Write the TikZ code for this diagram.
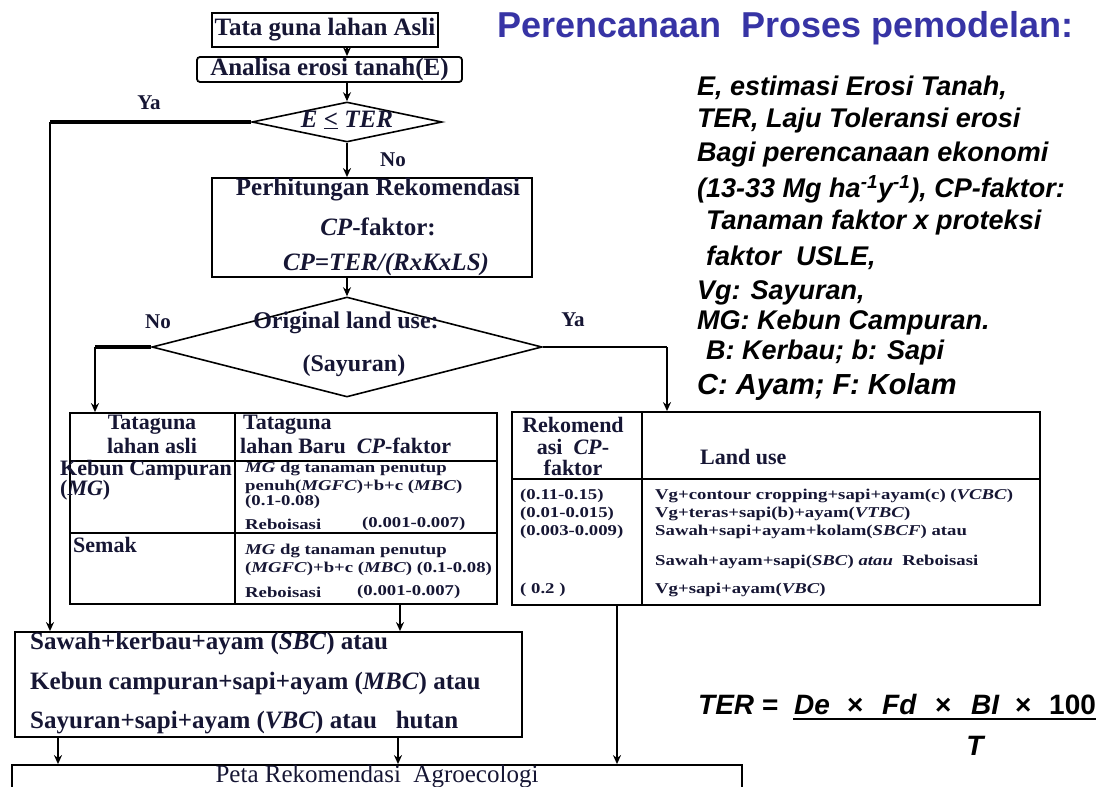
\documentclass[tikz,border=0pt]{standalone}
\usepackage{fontspec}
\setmainfont{Liberation Serif}
\newfontfamily\fxwide[FakeStretch=1.25]{Liberation Serif}
\newfontfamily\farial{Liberation Sans}
\usetikzlibrary{shapes.geometric,arrows.meta}
\definecolor{ink}{RGB}{22,22,52}
\definecolor{titleblue}{RGB}{55,52,165}
\newcommand\FlowFont{\bfseries\fontsize{25}{29}\selectfont}
\newcommand\HeadFont{\bfseries\fontsize{22}{25}\selectfont}
\newcommand\SmallFont{\fxwide\bfseries\fontsize{15}{18}\selectfont}
\newcommand\SideFont{\farial\bfseries\itshape\fontsize{27}{31}\selectfont}
\tikzset{
  box/.style={draw=black, line width=1.8pt, inner sep=0pt},
  ft/.style={font=\FlowFont, text=ink, inner sep=0pt},
  hd/.style={font=\HeadFont, text=ink, inner sep=0pt},
  sm/.style={font=\SmallFont, text=ink, inner sep=0pt, anchor=west},
  side/.style={font=\SideFont, text=black, inner sep=0pt, anchor=west},
  fm/.style={font=\farial\bfseries\itshape\fontsize{28}{32}\selectfont, text=black, inner sep=0pt, anchor=base west},
  lab/.style={font=\bfseries\fontsize{21}{24}\selectfont, text=ink, inner sep=0pt},
  arr/.style={-{Stealth[length=9pt,width=8pt]}, line width=1.6pt},
  thickl/.style={line width=3.5pt},
  dia/.style={diamond, draw=black, line width=1.6pt, inner sep=0pt}
}
\begin{document}
\begin{tikzpicture}[x=1pt,y=-1pt]
\clip (0,0) rectangle (1111,787);
\fill[white] (0,0) rectangle (1111,787);

% title
\node[font=\farial\bfseries\fontsize{36}{40}\selectfont, text=titleblue, inner sep=0pt, anchor=west] (title) at (497,28) {Perencanaan\ \ Proses pemodelan:};

% flowchart boxes
\node[box, ft, minimum width=226pt, minimum height=34pt] (top) at (325,30) {Tata guna lahan Asli};
\node[box, ft, rounded corners=3pt, minimum width=265pt, minimum height=25pt] (ana) at (329.5,69.5) {Analisa erosi tanah(E)};
\node[dia, minimum width=190pt, minimum height=40pt] (d1) at (347,122) {};
\node[ft] (d1t) at (347,120) {\itshape E \underline{<} TER};
\node[box, minimum width=320pt, minimum height=99pt] (perh) at (372,227.5) {};
\node[ft] (p1) at (378,190) {Perhitungan Rekomendasi};
\node[ft] (p2) at (378,227) {\textit{CP}-faktor:};
\node[ft] (p3) at (386,264) {\itshape CP=TER/(RxKxLS)};
\node[dia, minimum width=390pt, minimum height=100pt] (d2) at (347,347) {};
\node[ft, font=\bfseries\fontsize{24}{28}\selectfont] (d2a) at (346,323) {Original land use:};
\node[ft, font=\bfseries\fontsize{24}{28}\selectfont] (d2b) at (354,366) {(Sayuran)};

% branch labels
\node[lab] (lya1) at (149,103) {Ya};
\node[lab] (lno1) at (393,160) {No};
\node[lab] (lno2) at (158,322) {No};
\node[lab] (lya2) at (573,320) {Ya};

% left table
\node[box, minimum width=427pt, minimum height=191pt] (ltab) at (283.5,508.5) {};
\draw[line width=1.8pt] (70,461) -- (497,461);
\draw[line width=1.8pt] (70,533) -- (497,533);
\draw[line width=1.8pt] (235,413) -- (235,604);
\node[hd] (lh1) at (152,425) {Tataguna};
\node[hd] (lh2) at (152,446) {lahan asli};
\node[hd, anchor=west] (lh3) at (243,425) {Tataguna};
\node[hd, anchor=west] (lh4) at (240,446) {lahan Baru\ \ \textit{CP}-faktor};
\node[hd, anchor=west] (lr1) at (60,470) {Kebun Campuran};
\node[hd, anchor=west] (lr2) at (60,490) {(\textit{MG})};
\node[hd, anchor=west] (lr3) at (73,545) {Semak};
\node[sm] (a1) at (245,469) {\textit{MG} dg tanaman penutup};
\node[sm] (a2) at (245,487) {penuh(\textit{MGFC})+b+c (\textit{MBC})};
\node[sm] (a3) at (245,502) {(0.1-0.08)};
\node[sm] (a4) at (245,524) {Reboisasi};
\node[sm] (a5) at (362,524) {(0.001-0.007)};
\node[sm] (b1) at (245,551) {\textit{MG} dg tanaman penutup};
\node[sm] (b2) at (245,569) {(\textit{MGFC})+b+c (\textit{MBC}) (0.1-0.08)};
\node[sm] (b3) at (245,592) {Reboisasi};
\node[sm] (b4) at (357,592) {(0.001-0.007)};

% right table
\node[box, minimum width=528pt, minimum height=193pt] (rtab) at (776,508.5) {};
\draw[line width=1.8pt] (512,479) -- (1040,479);
\draw[line width=1.8pt] (642,412) -- (642,605);
\node[hd] (rh1) at (573,425) {Rekomend};
\node[hd] (rh2) at (573,447) {asi\ \ \textit{CP}-};
\node[hd] (rh3) at (573,468) {faktor};
\node[hd, anchor=west] (rh4) at (700,457) {Land use};
\node[sm] (c1a) at (520,496) {(0.11-0.15)};
\node[sm] (c1b) at (520,514) {(0.01-0.015)};
\node[sm] (c1c) at (520,532) {(0.003-0.009)};
\node[sm] (c1d) at (520,590) {( 0.2 )};
\node[sm] (c2a) at (655,496) {Vg+contour cropping+sapi+ayam(c) (\textit{VCBC})};
\node[sm] (c2b) at (655,514) {Vg+teras+sapi(b)+ayam(\textit{VTBC})};
\node[sm] (c2c) at (655,532) {Sawah+sapi+ayam+kolam(\textit{SBCF}) atau};
\node[sm] (c2d) at (655,562) {Sawah+ayam+sapi(\textit{SBC}) \textit{atau}\ \ Reboisasi};
\node[sm] (c2e) at (655,590) {Vg+sapi+ayam(\textit{VBC})};

% lower boxes
\node[box, minimum width=507pt, minimum height=105pt] (sawah) at (268.5,684.5) {};
\node[ft, anchor=west] (s1) at (30,644) {Sawah+kerbau+ayam (\textit{SBC}) atau};
\node[ft, anchor=west] (s2) at (30,684) {Kebun campuran+sapi+ayam (\textit{MBC}) atau};
\node[ft, anchor=west] (s3) at (30,723) {Sayuran+sapi+ayam (\textit{VBC}) atau\ \ \ hutan};
\node[box, minimum width=730pt, minimum height=40pt] (bot) at (377,785) {};
\node[font=\fontsize{25}{29}\selectfont, text=ink, inner sep=0pt] (bt) at (377,777) {Peta Rekomendasi\ \ Agroecologi};

% connectors
\coordinate (yaL) at (50,122);
\coordinate (noL) at (95,347);
\coordinate (yaR) at (667,347);
\coordinate (k1) at (400,0);
\coordinate (k2) at (58,0);
\coordinate (k3) at (398,0);
\coordinate (k4) at (617,0);
\draw[arr] (top.south -| d1.north) -- (ana.north -| d1.north);
\draw[arr] (ana.south -| d1.north) -- (d1.north);
\draw[thickl] (d1.west) -- (yaL);
\draw[arr] (yaL) -- (yaL |- sawah.north);
\draw[arr] (d1.south) -- (d1.south |- perh.north);
\draw[arr] (perh.south -| d2.north) -- (d2.north);
\draw[thickl] (d2.west) -- (noL);
\draw[arr] (noL) -- (noL |- ltab.north);
\draw[line width=1.6pt] (d2.east) -- (yaR);
\draw[arr] (yaR) -- (yaR |- rtab.north);
\draw[arr] (ltab.south -| k1) -- (sawah.north -| k1);
\draw[arr] (sawah.south -| k2) -- (bot.north -| k2);
\draw[arr] (sawah.south -| k3) -- (bot.north -| k3);
\draw[arr] (rtab.south -| k4) -- (bot.north -| k4);

% side notes
\node[side] (n1) at (697,88) {E, estimasi Erosi Tanah,};
\node[side] (n2) at (697,121) {TER, Laju Toleransi erosi};
\node[side] (n3) at (697,155) {Bagi perencanaan ekonomi};
\node[side] (n4) at (697,189) {(13-33 Mg ha\textsuperscript{-1}y\textsuperscript{-1}), CP-faktor:};
\node[side] (n5) at (706,223) {Tanaman faktor x proteksi};
\node[side] (n6) at (706,258) {faktor\ \ USLE,};
\node[side] (n7) at (697,293) {Vg: Sayuran,};
\node[side] (n8) at (697,323) {MG: Kebun Campuran.};
\node[side] (n9) at (706,353) {B: Kerbau; b: Sapi};
\node[side, font=\farial\bfseries\itshape\fontsize{29}{33}\selectfont] (n10) at (697,387) {C: Ayam; F: Kolam};

% formula
\node[fm] (fT) at (698,714) {TER};
\node[fm] (fe) at (762,714) {\upshape =};
\node[fm] (fDe) at (794,714) {De};
\node[fm] (fx1) at (847,714) {\upshape ×};
\node[fm] (fFd) at (882,714) {Fd};
\node[fm] (fx2) at (935,714) {\upshape ×};
\node[fm] (fBI) at (971,714) {BI};
\node[fm] (fx3) at (1015,714) {\upshape ×};
\node[fm] (f100) at (1049,714) {\upshape 100};
\draw[line width=1.6pt] (fDe.base west) ++(-1,5) coordinate (fb1) -- (f100.base east |- fb1);
\node[fm, anchor=base] (fTT) at (975,755) {T};
\end{tikzpicture}
\end{document}
